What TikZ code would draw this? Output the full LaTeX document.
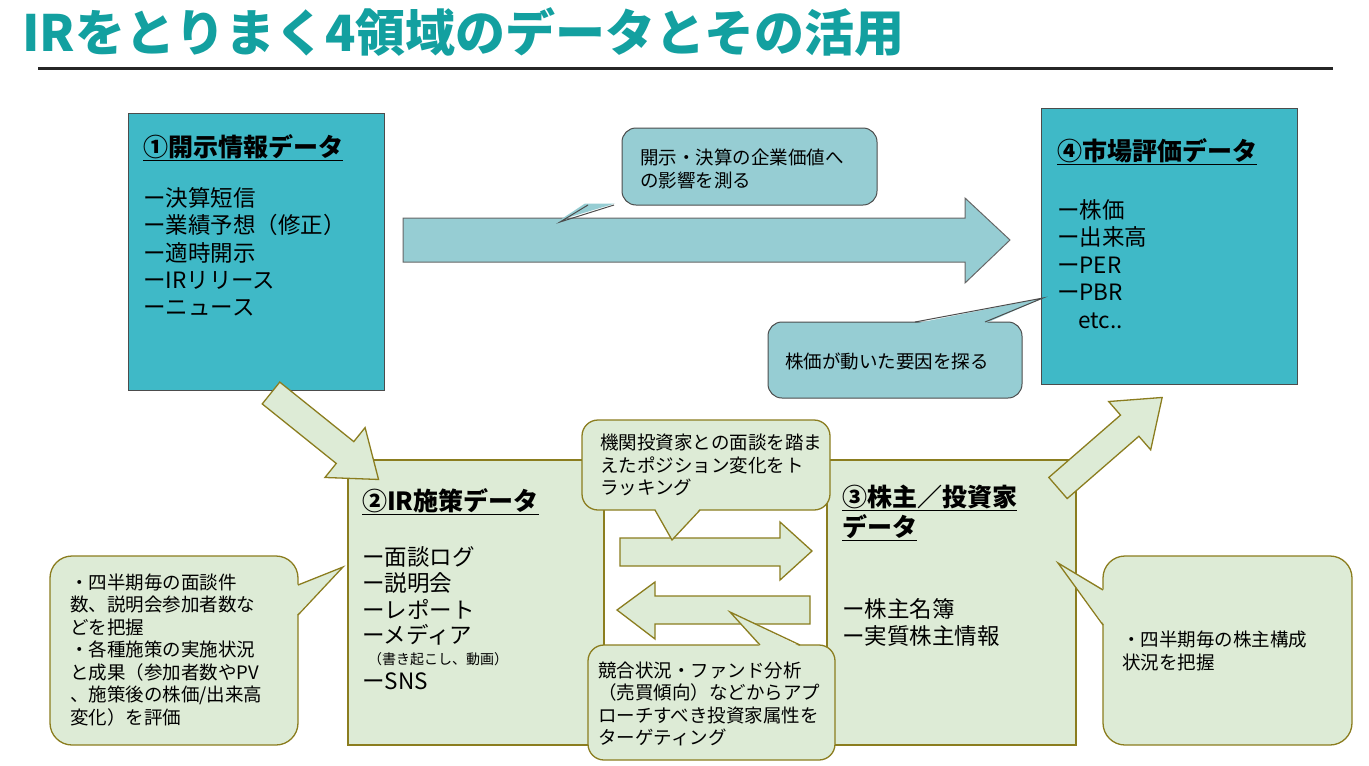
\documentclass[tikz,border=0pt]{standalone}
\usepackage{fontspec}
\setmainfont{Liberation Sans}
\newfontfamily\cjk{Noto Sans CJK JP}
\begin{document}
\begin{tikzpicture}[x=1pt,y=-1pt,
  every node/.style={font=\cjk,inner sep=0,anchor=west},
  tealbox/.style={fill=bxteal,draw=black!70,line width=1pt},
  greenbox/.style={fill=grn,draw=olv,line width=1.3pt},
  callt/.style={fill=clteal,draw=black!70,line width=1pt,rounded corners=14pt},
  callg/.style={fill=grn,draw=olv,line width=1.3pt,rounded corners=22pt},
  bigarrow/.style={fill=clteal,draw=black!60,line width=1pt},
  garrow/.style={fill=grn,draw=olv,line width=1.3pt},
  ttl/.style={font=\cjk\bfseries\fontsize{25}{30}\selectfont},
  itm/.style={font=\cjk\fontsize{22.5}{26}\selectfont},
  sm/.style={font=\cjk\fontsize{18.5}{22.5}\selectfont,align=left},
]
\definecolor{bxteal}{HTML}{3FB9C7}
\definecolor{clteal}{HTML}{96CDD3}
\definecolor{grn}{HTML}{DDEBD6}
\definecolor{olv}{HTML}{8B7D1F}
\definecolor{tt}{HTML}{13A0A0}
\useasboundingbox (0,0) rectangle (1369,766);
\node (title) [font=\cjk\bfseries\fontsize{50}{56}\selectfont,text=tt] at (22,32) {IRをとりまく4領域のデータとその活用};
\draw[line width=3pt,black!85] (38,68) -- (1333,68);

% box1
\draw[tealbox] (128,113) rectangle (384,390);
\node[ttl] (t1) at (143,148) {\underline{①開示情報データ}};
\node[itm] (i1) at (143,198) {ー決算短信};
\node[itm] (i2) at (143,225) {ー業績予想（修正）};
\node[itm] (i3) at (143,253) {ー適時開示};
\node[itm] (i4) at (143,280) {ーIRリリース};
\node[itm] (i5) at (143,308) {ーニュース};

% box4
\draw[tealbox] (1041,108) rectangle (1297,384);
\node[ttl] (t4) at (1057,152) {\underline{④市場評価データ}};
\node[itm] (j1) at (1057,210) {ー株価};
\node[itm] (j2) at (1057,237) {ー出来高};
\node[itm] (j3) at (1057,265) {ーPER};
\node[itm] (j4) at (1057,292) {ーPBR};
\node[itm] (j5) at (1078,321) {etc..};

% big arrow
\draw[bigarrow] (403,218) -- (965,218) -- (965,198) -- (1010,240) -- (965,283) -- (965,262) -- (403,262) -- cycle;

% callout 1
\draw[callt] (622,128) rectangle (877,205);
\fill[clteal] (585,203.5) -- (615,203.5) -- (560,220) -- cycle;
\draw[black!70,line width=1pt] (588,205) -- (560,222) -- (614,205);
\node[sm] (c1) at (640,169) {開示・決算の企業価値へ\\の影響を測る};

% callout 2
\draw[callt] (768,322) rectangle (1022,398);
\fill[clteal] (915,323.5) -- (985,323.5) -- (1043,298) -- cycle;
\draw[black!70,line width=1pt] (915,322) -- (1043,298) -- (985,322);
\node[sm] (c2) at (785,361) {株価が動いた要因を探る};

% green area
\draw[greenbox] (348,460) rectangle (1076,745);
\draw[fill=white,draw=olv,line width=1.3pt] (604,460) rectangle (827,745);
\node[ttl] (t2) at (362,502) {\underline{②IR施策データ}};
\node[itm] (k1) at (362,557) {ー面談ログ};
\node[itm] (k2) at (362,583) {ー説明会};
\node[itm] (k3) at (362,609) {ーレポート};
\node[itm] (k4) at (362,635) {ーメディア};
\node[font=\cjk\fontsize{14}{16}\selectfont] (k5) at (368,659) {（書き起こし、動画）};
\node[itm] (k6) at (362,681) {ーSNS};

\node[ttl,align=left] (t3) at (842,513) {\underline{③株主／投資家}\\\underline{データ}};
\node[itm] (m1) at (842,609) {ー株主名簿};
\node[itm] (m2) at (842,636) {ー実質株主情報};

% middle arrows
\draw[garrow] (620,538) -- (780,538) -- (780,522) -- (812,551) -- (780,580) -- (780,566) -- (620,566) -- cycle;
\draw[garrow] (810,596) -- (655,596) -- (655,582) -- (617,610) -- (655,639) -- (655,624) -- (810,624) -- cycle;

% callout 3
\draw[callg,rounded corners=16pt] (582,420) rectangle (830,510);
\fill[grn] (655,508.5) -- (700,508.5) -- (672,540) -- cycle;
\draw[olv,line width=1.3pt] (655,510) -- (672,540) -- (700,510);
\node[sm] (c3) at (600,465) {機関投資家との面談を踏ま\\えたポジション変化をト\\ラッキング};

% callout 4
\draw[callg,rounded corners=16pt] (588,645) rectangle (835,760);
\fill[grn] (760,646.5) -- (800,646.5) -- (730,612) -- cycle;
\draw[olv,line width=1.3pt] (760,645) -- (730,612) -- (800,645);
\node[sm] (c4) at (598,704) {競合状況・ファンド分析\\（売買傾向）などからアプ\\ローチすべき投資家属性を\\ターゲティング};

% left callout
\draw[callg] (50,556) rectangle (298,745);
\fill[grn] (296.5,585) -- (296.5,615) -- (343,567) -- cycle;
\draw[olv,line width=1.3pt] (298,585) -- (343,567) -- (298,615);
\node[sm] (c5) at (70,650) {・四半期毎の面談件\\数、説明会参加者数な\\どを把握\\・各種施策の実施状況\\と成果（参加者数やPV\\、施策後の株価/出来高\\変化）を評価};

% right callout
\draw[callg] (1103,556) rectangle (1352,745);
\fill[grn] (1104.5,590) -- (1104.5,625) -- (1058,563) -- cycle;
\draw[olv,line width=1.3pt] (1103,590) -- (1058,563) -- (1103,625);
\node[sm] (c6) at (1122,651) {・四半期毎の株主構成\\状況を把握};

% diagonal arrows
\begin{scope}[shift={(271,393)},rotate=-38.8]
\draw[garrow] (0,-14) -- (95,-14) -- (95,-32) -- (138,0) -- (95,32) -- (95,14) -- (0,14) -- cycle;
\end{scope}
\begin{scope}[shift={(1058,488)},rotate=41]
\draw[garrow] (0,-14) -- (95,-14) -- (95,-32) -- (138,0) -- (95,32) -- (95,14) -- (0,14) -- cycle;
\end{scope}
\end{tikzpicture}
\end{document}
